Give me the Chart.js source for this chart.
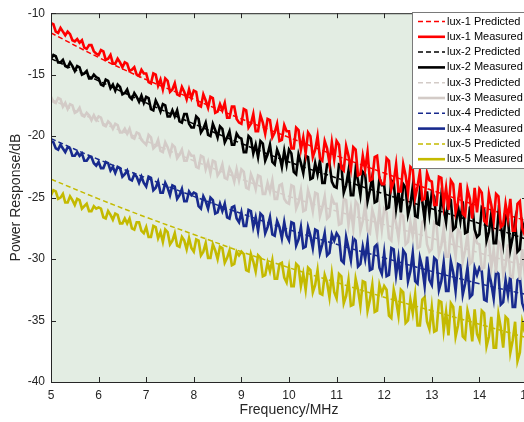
<!DOCTYPE html>
<html>
<head>
<meta charset="utf-8">
<script src="https://cdn.jsdelivr.net/npm/chart.js@4.4.0/dist/chart.umd.min.js"></script>
<style>
  html, body { margin: 0; padding: 0; background: #fff; overflow: hidden; }
  #wrap { width: 524px; height: 422px; overflow: hidden; }
</style>
</head>
<body>
<div id="wrap"><canvas id="c" width="540" height="422"></canvas></div>
<script>
// measured sweep: 5 MHz to 15 MHz, one sample every 0.05 MHz
const sweepStart = 5, sweepStep = 0.05, sweepCount = 201;
const freqMeasured = [];
for (let i = 0; i < sweepCount; i++) freqMeasured.push(+(sweepStart + i * sweepStep).toFixed(2));

const freqPredicted = [5, 6, 7, 8, 9, 10, 11, 12, 13, 14, 15];

const seriesNames = ['lux-1', 'lux-2', 'lux-3', 'lux-4', 'lux-5'];
const seriesColors = ['#ff0000', '#000000', '#d3cbc7', '#182a8e', '#c4ba00'];

const lux1Predicted = [-11.6, -13.6, -15.4, -17.0, -18.6, -20.1, -21.6, -23.0, -24.4, -25.7, -26.9];
const lux2Predicted = [-13.7, -15.5, -17.3, -19.0, -20.6, -22.1, -23.4, -24.7, -25.9, -27.1, -28.4];
const lux3Predicted = [-17.0, -18.8, -20.4, -22.0, -23.5, -24.9, -26.1, -27.2, -28.3, -29.5, -30.6];
const lux4Predicted = [-20.2, -21.9, -23.4, -24.9, -26.3, -27.6, -28.8, -29.9, -31.0, -32.0, -32.9];
const lux5Predicted = [-23.5, -25.1, -26.6, -28.0, -29.4, -30.7, -31.9, -33.1, -34.2, -35.3, -36.4];

const lux1Measured = [
  -10.8,-10.9,-11.5,-11.6,-11.2,-11.5,-11.8,-11.5,-11.7,-12.2,-12.3,-12.1,-12.4,-12.2,-12.8,-12.9,-12.6,-12.6,-13.1,-13.3,
  -13.4,-13.0,-13.1,-13.8,-13.7,-13.4,-14.1,-14.1,-13.7,-14.0,-14.4,-14.0,-14.1,-14.7,-14.6,-14.4,-15.0,-15.1,-14.6,-14.9,
  -14.9,-15.6,-15.7,-14.9,-15.0,-15.9,-15.4,-16.2,-15.3,-15.5,-16.4,-16.2,-15.7,-16.6,-16.7,-16.0,-16.4,-17.0,-16.2,-16.9,
  -16.3,-16.4,-17.5,-17.6,-16.6,-17.1,-17.7,-16.8,-16.9,-18.1,-18.0,-17.4,-17.9,-17.3,-18.5,-18.5,-17.6,-17.6,-18.6,-18.9,
  -19.0,-17.8,-17.9,-19.3,-19.0,-18.2,-19.6,-19.6,-18.3,-18.9,-19.8,-18.6,-18.7,-20.1,-19.7,-19.0,-20.4,-20.3,-19.1,-19.6,
  -19.6,-21.0,-21.0,-19.3,-19.5,-21.1,-20.1,-21.4,-19.7,-20.0,-21.7,-21.1,-20.0,-21.8,-22.0,-20.4,-21.0,-22.2,-20.5,-21.9,
  -20.4,-20.7,-22.6,-22.8,-20.8,-21.6,-22.7,-20.9,-21.1,-23.2,-23.1,-21.6,-22.7,-21.3,-23.6,-23.5,-21.7,-21.6,-23.4,-23.9,
  -23.9,-21.8,-22.0,-24.3,-23.7,-22.3,-24.5,-24.5,-22.3,-23.2,-24.6,-22.5,-22.7,-25.0,-24.1,-22.9,-25.2,-25.1,-23.0,-23.6,
  -23.7,-25.6,-25.6,-23.3,-23.4,-25.6,-24.2,-26.0,-23.6,-23.9,-26.2,-25.4,-23.8,-26.3,-26.5,-24.3,-25.1,-26.7,-24.2,-26.2,
  -24.3,-24.6,-26.9,-27.1,-24.7,-25.6,-26.9,-24.7,-24.9,-27.4,-27.2,-25.5,-26.7,-25.1,-27.7,-27.7,-25.5,-25.3,-27.5,-28.0,
  -26.5
];
const lux2Measured = [
  -13.7,-13.4,-13.5,-14.0,-14.0,-13.8,-14.3,-14.4,-14.0,-14.3,-14.7,-14.3,-14.4,-15.0,-14.9,-14.7,-15.3,-15.3,-15.0,-15.2,
  -15.3,-15.8,-15.9,-15.4,-15.5,-16.1,-15.8,-16.3,-15.8,-16.0,-16.6,-16.5,-16.2,-16.8,-17.0,-16.5,-16.8,-17.2,-16.7,-17.3,
  -16.8,-16.9,-17.8,-17.9,-17.1,-17.5,-18.0,-17.4,-17.5,-18.4,-18.4,-17.9,-18.4,-17.9,-18.8,-18.9,-18.2,-18.2,-19.0,-19.3,
  -19.3,-18.4,-18.6,-19.7,-19.4,-18.9,-19.9,-20.0,-19.0,-19.5,-20.1,-19.2,-19.4,-20.5,-20.1,-19.6,-20.7,-20.7,-19.8,-20.1,
  -20.2,-21.3,-21.3,-20.0,-20.2,-21.4,-20.7,-21.7,-20.4,-20.6,-22.0,-21.5,-20.7,-22.1,-22.3,-21.1,-21.6,-22.5,-21.2,-22.3,
  -21.1,-21.4,-22.9,-23.1,-21.5,-22.2,-23.0,-21.6,-21.7,-23.5,-23.4,-22.2,-23.1,-22.0,-23.8,-23.8,-22.3,-22.2,-23.7,-24.1,
  -24.2,-22.3,-22.4,-24.6,-24.0,-22.8,-24.8,-24.8,-22.7,-23.6,-24.8,-22.9,-23.1,-25.3,-24.4,-23.3,-25.4,-25.3,-23.4,-24.0,
  -24.0,-25.9,-25.8,-23.6,-23.8,-25.9,-24.5,-26.2,-23.9,-24.2,-26.4,-25.6,-24.1,-26.5,-26.6,-24.5,-25.3,-26.8,-24.5,-26.3,
  -24.6,-24.9,-27.1,-27.2,-24.9,-25.9,-27.0,-25.0,-25.2,-27.6,-27.4,-25.7,-26.9,-25.3,-27.9,-27.8,-25.8,-25.6,-27.6,-28.2,
  -28.0,-25.8,-26.0,-28.5,-27.8,-26.3,-28.7,-28.7,-26.3,-27.2,-28.7,-26.5,-26.7,-29.2,-28.2,-26.9,-29.4,-29.2,-27.0,-27.7,
  -28.8
];
const lux3Measured = [
  -16.8,-17.2,-17.3,-16.9,-17.0,-17.6,-17.3,-17.8,-17.4,-17.5,-18.1,-18.0,-17.7,-18.3,-18.4,-18.1,-18.3,-18.7,-18.3,-18.7,
  -18.4,-18.5,-19.1,-19.2,-18.8,-19.0,-19.4,-19.0,-19.1,-19.7,-19.7,-19.4,-19.8,-19.4,-20.1,-20.2,-19.7,-19.8,-20.3,-20.5,
  -20.7,-19.9,-20.1,-21.0,-20.8,-20.3,-21.2,-21.3,-20.5,-20.9,-21.5,-20.7,-20.9,-21.8,-21.5,-21.1,-22.0,-22.0,-21.3,-21.6,
  -21.6,-22.5,-22.6,-21.6,-21.7,-22.7,-22.1,-23.0,-22.0,-22.1,-23.2,-22.9,-22.3,-23.4,-23.5,-22.6,-23.0,-23.7,-22.7,-23.6,
  -22.7,-22.9,-24.2,-24.3,-23.1,-23.6,-24.3,-23.2,-23.3,-24.7,-24.7,-23.8,-24.5,-23.6,-25.1,-25.1,-24.0,-23.9,-25.1,-25.4,
  -25.5,-24.0,-24.1,-25.9,-25.4,-24.4,-26.1,-26.0,-24.4,-25.1,-26.1,-24.6,-24.7,-26.5,-25.8,-24.9,-26.7,-26.5,-25.0,-25.5,
  -25.5,-27.2,-27.1,-25.1,-25.2,-27.2,-25.9,-27.5,-25.3,-25.6,-27.7,-26.9,-25.6,-27.7,-27.9,-26.0,-26.7,-28.0,-25.9,-27.6,
  -25.9,-26.2,-28.3,-28.5,-26.2,-27.1,-28.3,-26.3,-26.5,-28.8,-28.6,-27.0,-28.1,-26.6,-29.1,-29.0,-27.0,-26.8,-28.8,-29.4,
  -29.2,-27.0,-27.2,-29.6,-28.9,-27.5,-29.8,-29.8,-27.4,-28.4,-29.8,-27.6,-27.8,-30.2,-29.3,-28.0,-30.4,-30.2,-28.0,-28.7,
  -28.8,-30.8,-30.7,-28.3,-28.5,-30.7,-29.2,-31.1,-28.6,-28.9,-31.3,-30.5,-28.8,-31.4,-31.5,-29.3,-30.1,-31.7,-29.2,-31.2,
  -30.4
];
const lux4Measured = [
  -20.4,-20.5,-21.0,-21.1,-20.7,-21.0,-21.3,-20.9,-21.0,-21.6,-21.6,-21.3,-21.6,-21.4,-22.0,-22.0,-21.7,-21.7,-22.2,-22.4,
  -22.1,-22.6,-22.6,-22.1,-22.2,-22.8,-22.5,-23.0,-22.5,-22.6,-23.3,-23.1,-22.8,-23.5,-23.6,-23.1,-23.3,-23.8,-23.3,-23.8,
  -24.1,-23.3,-23.4,-24.4,-24.2,-23.7,-24.6,-24.6,-23.8,-24.2,-24.8,-24.0,-24.1,-25.1,-24.8,-24.3,-25.3,-25.3,-24.5,-24.8,
  -24.6,-24.7,-25.7,-25.9,-24.9,-25.3,-25.9,-25.0,-25.2,-26.3,-26.2,-25.5,-26.1,-25.5,-26.6,-26.7,-25.8,-25.7,-26.7,-27.0,
  -26.2,-27.3,-27.3,-26.0,-26.1,-27.4,-26.6,-27.7,-26.3,-26.5,-27.9,-27.4,-26.6,-28.0,-28.1,-26.9,-27.4,-28.3,-27.0,-28.1,
  -28.5,-27.0,-27.1,-28.9,-28.4,-27.4,-29.1,-29.0,-27.4,-28.1,-29.1,-27.6,-27.7,-29.5,-28.8,-27.9,-29.7,-29.5,-28.0,-28.5,
  -27.9,-28.2,-30.1,-30.3,-28.2,-29.1,-30.1,-28.3,-28.5,-30.6,-30.4,-29.0,-30.0,-28.6,-30.9,-30.8,-29.0,-28.8,-30.7,-31.2,
  -29.5,-31.4,-31.3,-29.1,-29.2,-31.3,-29.9,-31.7,-29.3,-29.6,-31.8,-31.0,-29.5,-31.8,-32.0,-29.9,-30.7,-32.2,-29.8,-31.7,
  -32.1,-29.9,-30.1,-32.5,-31.8,-30.3,-32.6,-32.6,-30.2,-31.1,-32.6,-30.4,-30.5,-32.9,-32.0,-30.7,-33.1,-32.9,-30.7,-31.3,
  -30.7,-31.0,-33.3,-33.4,-31.0,-32.0,-33.2,-31.0,-31.2,-33.7,-33.5,-31.7,-32.9,-31.3,-33.9,-33.9,-31.7,-31.5,-33.6,-34.2,
  -32.7
];
const lux5Measured = [
  -24.8,-24.4,-24.5,-25.1,-25.0,-24.7,-25.4,-25.4,-24.9,-25.2,-25.6,-25.1,-25.2,-25.9,-25.7,-25.5,-26.1,-26.1,-25.7,-25.9,
  -25.8,-25.9,-26.6,-26.7,-26.1,-26.4,-26.8,-26.3,-26.4,-27.1,-27.1,-26.7,-27.1,-26.7,-27.5,-27.6,-27.0,-27.0,-27.7,-27.9,
  -27.4,-28.2,-28.2,-27.3,-27.4,-28.3,-27.8,-28.6,-27.6,-27.8,-28.8,-28.5,-27.9,-28.9,-29.0,-28.2,-28.5,-29.2,-28.3,-29.1,
  -29.4,-28.4,-28.5,-29.7,-29.4,-28.7,-29.9,-29.9,-28.8,-29.3,-30.0,-29.0,-29.1,-30.3,-29.9,-29.3,-30.5,-30.4,-29.4,-29.7,
  -29.4,-29.6,-30.9,-31.0,-29.6,-30.2,-31.0,-29.7,-29.9,-31.4,-31.3,-30.3,-31.0,-30.1,-31.6,-31.6,-30.4,-30.3,-31.5,-31.9,
  -30.7,-32.2,-32.2,-30.4,-30.6,-32.2,-31.2,-32.5,-30.7,-30.9,-32.7,-32.1,-30.9,-32.8,-32.9,-31.3,-31.9,-33.1,-31.2,-32.7,
  -33.2,-31.2,-31.4,-33.6,-33.0,-31.7,-33.8,-33.7,-31.6,-32.5,-33.8,-31.8,-31.9,-34.2,-33.3,-32.1,-34.3,-34.2,-32.1,-32.8,
  -32.2,-32.5,-34.6,-34.8,-32.5,-33.4,-34.6,-32.5,-32.7,-35.2,-35.0,-33.3,-34.4,-32.9,-35.4,-35.4,-33.3,-33.1,-35.1,-35.7,
  -33.9,-35.9,-35.8,-33.4,-33.5,-35.8,-34.3,-36.2,-33.6,-33.9,-36.3,-35.4,-33.8,-36.3,-36.5,-34.2,-35.0,-36.7,-34.1,-36.1,
  -36.6,-34.2,-34.4,-37.1,-36.3,-34.7,-37.2,-37.2,-34.5,-35.6,-37.2,-34.7,-34.9,-37.6,-36.6,-35.1,-38.3,-37.6,-35.1,-35.9,
  -36.3
];

const xTicks = [5, 6, 7, 8, 9, 10, 11, 12, 13, 14, 15];
const yTicks = [-40, -35, -30, -25, -20, -15, -10];

const predictedSets = [lux1Predicted, lux2Predicted, lux3Predicted, lux4Predicted, lux5Predicted];
const measuredSets = [lux1Measured, lux2Measured, lux3Measured, lux4Measured, lux5Measured];

const FONT = '"Liberation Sans", Arial, Helvetica, sans-serif';
const AXIS_COLOR = '#262626';

const datasets = [];
seriesNames.forEach((name, i) => {
  datasets.push({
    label: name + ' Predicted',
    data: freqPredicted.map((f, k) => ({ x: f, y: predictedSets[i][k] })),
    borderColor: seriesColors[i],
    borderWidth: 1.5,
    borderDash: [5, 3],
    pointRadius: 0,
    tension: 0.4,
    order: 1
  });
  datasets.push({
    label: name + ' Measured',
    data: freqMeasured.map((f, k) => ({ x: f, y: measuredSets[i][k] })),
    borderColor: seriesColors[i],
    borderWidth: 2.6,
    pointRadius: 0,
    tension: 0,
    order: 0
  });
});

// plot background, inward ticks, box, legend
const matlabLook = {
  id: 'matlabLook',
  beforeDatasetsDraw(chart) {
    const { ctx, chartArea: a } = chart;
    ctx.save();
    ctx.fillStyle = '#e3ede3';
    ctx.fillRect(a.left, a.top, a.right - a.left, a.bottom - a.top);
    ctx.restore();
  },
  afterDraw(chart) {
    const { ctx, chartArea: a, scales } = chart;
    ctx.save();
    ctx.strokeStyle = AXIS_COLOR;
    ctx.lineWidth = 1;
    ctx.strokeRect(a.left + 0.5, a.top + 0.5, a.right - a.left, a.bottom - a.top);
    ctx.beginPath();
    xTicks.forEach(v => {
      const px = Math.round(scales.x.getPixelForValue(v)) + 0.5;
      ctx.moveTo(px, a.bottom); ctx.lineTo(px, a.bottom - 5);
      ctx.moveTo(px, a.top); ctx.lineTo(px, a.top + 5);
    });
    yTicks.forEach(v => {
      const py = Math.round(scales.y.getPixelForValue(v)) + 0.5;
      ctx.moveTo(a.left, py); ctx.lineTo(a.left + 5, py);
      ctx.moveTo(a.right, py); ctx.lineTo(a.right - 5, py);
    });
    ctx.stroke();

    // legend box
    const lx = 412, ly = 12, lw = 130, lh = 156, row = 15.3;
    ctx.fillStyle = '#ffffff';
    ctx.fillRect(lx, ly, lw, lh);
    ctx.strokeStyle = '#7a7a7a';
    ctx.strokeRect(lx + 0.5, ly + 0.5, lw, lh);
    ctx.font = '11px ' + FONT;
    ctx.textBaseline = 'middle';
    ctx.textAlign = 'left';
    chart.data.datasets.forEach((ds, i) => {
      const y = ly + 9.5 + i * row;
      ctx.beginPath();
      ctx.strokeStyle = ds.borderColor;
      ctx.lineWidth = ds.borderWidth;
      ctx.setLineDash(ds.borderDash || []);
      ctx.moveTo(418, y); ctx.lineTo(445, y);
      ctx.stroke();
      ctx.setLineDash([]);
      ctx.fillStyle = '#000';
      ctx.fillText(ds.label, 447, y);
    });
    ctx.restore();
  }
};

new Chart(document.getElementById('c'), {
  type: 'line',
  data: { datasets },
  options: {
    responsive: false,
    animation: false,
    layout: { padding: { left: 0, right: 13, top: 12, bottom: 0 } },
    plugins: { legend: { display: false }, tooltip: { enabled: false } },
    scales: {
      x: {
        type: 'linear', min: 5, max: 15,
        afterBuildTicks: s => { s.ticks = xTicks.map(v => ({ value: v })); },
        afterFit: s => { s.height = 40; },
        ticks: { color: AXIS_COLOR, font: { family: FONT, size: 12 }, padding: 6, maxRotation: 0 },
        grid: { display: false, drawTicks: false },
        border: { display: false },
        title: { display: true, text: 'Frequency/MHz', color: AXIS_COLOR, font: { family: FONT, size: 14 }, padding: { top: 0, bottom: 3 } }
      },
      y: {
        type: 'linear', min: -40, max: -10,
        afterBuildTicks: s => { s.ticks = yTicks.map(v => ({ value: v })); },
        afterFit: s => { s.width = 51; },
        ticks: { color: AXIS_COLOR, font: { family: FONT, size: 12 }, padding: 6 },
        grid: { display: false, drawTicks: false },
        border: { display: false },
        title: { display: true, text: 'Power Response/dB', color: AXIS_COLOR, font: { family: FONT, size: 14 }, padding: { top: 8, bottom: 0 } }
      }
    }
  },
  plugins: [matlabLook]
});
</script>
</body>
</html>
